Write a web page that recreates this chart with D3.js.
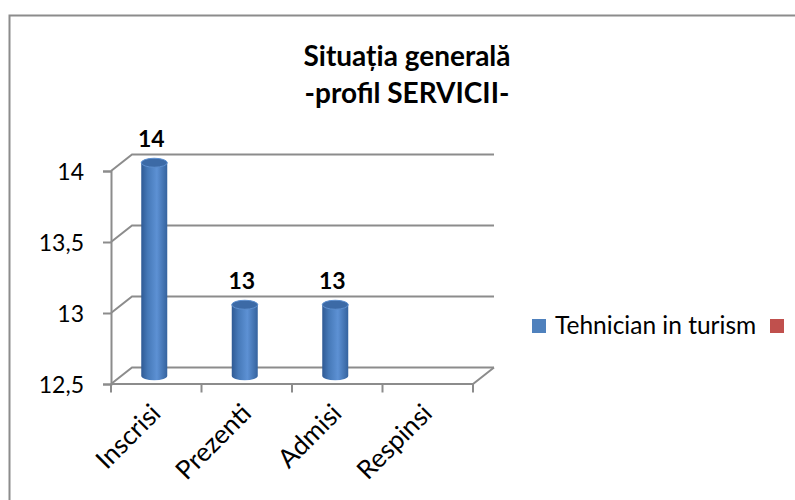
<!DOCTYPE html>
<html>
<head>
<meta charset="utf-8">
<script src="https://cdn.jsdelivr.net/npm/d3@7"></script>
<style>
  body { margin: 0; background: #fff; }
  svg { display: block; font-family: Lato, "Open Sans", sans-serif; }
</style>
</head>
<body>
<svg id="chart"></svg>
<script>
;(() => {

    // chart data
    const categories = ['Inscrisi', 'Prezenti', 'Admisi', 'Respinsi'];
    const seriesNames = ['Tehnician in turism', ''];
    const tehnicianValues = [14, 13, 13, null];
    const secondValues = [null, null, null, null];
    const yTicks = [12.5, 13, 13.5, 14];
    const titleLines = ['Situația generală', '-profil SERVICII-'];

    const width = 795;
    const height = 500;
    // 3d depth offset of the back wall
    const depthX = 21;
    const depthY = -16.5;
    const gridColor = '#8c8c8c';
    const seriesColors = ['#4f81bd', '#c0504d'];

    const svg = d3.select('#chart')
        .attr('width', width)
        .attr('height', height);

    const x = d3.scaleBand().domain(categories).range([111, 473]);
    const y = d3.scaleLinear().domain([12.5, 14]).range([384, 171]);
    const roLocale = d3.formatLocale({decimal: ',', thousands: '.', grouping: [3], currency: ['', ' lei']});
    const fmt = roLocale.format('~g');

    // outer frame
    svg.append('rect')
        .attr('x', 9.5).attr('y', 15.5)
        .attr('width', 820).attr('height', 520)
        .attr('fill', 'none')
        .attr('stroke', gridColor)
        .attr('stroke-width', 2);

    // title
    svg.append('text')
        .attr('text-anchor', 'middle')
        .attr('font-weight', 'bold')
        .attr('font-size', 28)
        .attr('fill', '#000')
        .selectAll('tspan')
        .data(titleLines)
        .enter()
        .append('tspan')
        .attr('x', 407)
        .attr('y', (d, i) => 66 + i * 37)
        .text(d => d);

    const [x0, x1] = x.range();

    // back wall gridlines + diagonals to the front axis
    const grid = svg.append('g').attr('class', 'grid')
        .attr('stroke', gridColor)
        .attr('stroke-width', 2)
        .attr('fill', 'none');

    grid.selectAll('path.back')
        .data(yTicks)
        .enter()
        .append('path')
        .attr('class', 'back')
        .attr('d', d => `M${x0},${y(d)}L${x0 + depthX},${y(d) + depthY}L${x1 + depthX},${y(d) + depthY}`);

    // floor front edge and right side
    const yMin = y.domain()[0];
    grid.append('path')
        .attr('d', `M${x0},${y(yMin)}L${x1},${y(yMin)}L${x1 + depthX},${y(yMin) + depthY}`);

    // category ticks under the floor
    grid.selectAll('line.cat')
        .data(d3.range(categories.length + 1))
        .enter()
        .append('line')
        .attr('class', 'cat')
        .attr('x1', i => x0 + i * x.bandwidth())
        .attr('x2', i => x0 + i * x.bandwidth())
        .attr('y1', y(yMin))
        .attr('y2', y(yMin) + 8.5);

    // y axis
    const yAxis = svg.append('g')
        .attr('transform', `translate(${x0},0)`)
        .call(d3.axisLeft(y).tickValues(yTicks).tickSize(8).tickPadding(19).tickFormat(fmt));

    yAxis.select('.domain')
        .attr('stroke', gridColor)
        .attr('stroke-width', 2);
    yAxis.selectAll('.tick line')
        .attr('stroke', gridColor)
        .attr('stroke-width', 2);
    yAxis.selectAll('.tick text')
        .attr('font-size', 23)
        .attr('font-family', 'Lato, sans-serif')
        .attr('fill', '#000')
        .attr('dy', '0.36em');

    // category labels, rotated
    svg.append('g').selectAll('text')
        .data(categories)
        .enter()
        .append('text')
        .attr('transform', d => `translate(${x(d) + x.bandwidth() / 2 + 6},${415}) rotate(-45)`)
        .attr('text-anchor', 'end')
        .attr('font-size', 26)
        .attr('fill', '#000')
        .text(d => d);

    // cylinder gradient
    const defs = svg.append('defs');
    const grad = defs.append('linearGradient')
        .attr('id', 'cyl')
        .attr('x1', 0).attr('x2', 1).attr('y1', 0).attr('y2', 0);
    grad.append('stop').attr('offset', '0%').attr('stop-color', '#2f5a94');
    grad.append('stop').attr('offset', '25%').attr('stop-color', '#4679b8');
    grad.append('stop').attr('offset', '60%').attr('stop-color', '#5d91d4');
    grad.append('stop').attr('offset', '100%').attr('stop-color', '#35639e');

    const barW = 26;
    const ry = 4.5;
    const barData = categories
        .map((c, i) => ({c, v: tehnicianValues[i]}))
        .filter(d => d.v != null);

    const bars = svg.append('g').attr('class', 'bars')
        .selectAll('g')
        .data(barData)
        .enter()
        .append('g');

    const cx = d => x(d.c) + x.bandwidth() / 2 - 2;
    const baseY = y(yMin) + depthY / 2;
    const topY = d => y(d.v) + depthY / 2;

    bars.append('path')
        .attr('fill', 'url(#cyl)')
        .attr('d', d => {
            const l = cx(d) - barW / 2;
            const r = cx(d) + barW / 2;
            return `M${l},${topY(d)}L${l},${baseY}A${barW / 2},${ry} 0 0 0 ${r},${baseY}L${r},${topY(d)}Z`;
        });

    bars.append('ellipse')
        .attr('cx', cx)
        .attr('cy', topY)
        .attr('rx', barW / 2)
        .attr('ry', ry)
        .attr('fill', '#3c6aa6')
        .attr('stroke', '#5d8fcf')
        .attr('stroke-width', 1);

    // data labels
    bars.append('text')
        .attr('x', d => cx(d) - 3)
        .attr('y', d => topY(d) - 16)
        .attr('text-anchor', 'middle')
        .attr('font-weight', 'bold')
        .attr('font-size', 23)
        .attr('fill', '#000')
        .text(d => d.v);

    // legend
    const legend = svg.append('g').attr('class', 'legend');
    legend.append('rect')
        .attr('x', 532).attr('y', 319)
        .attr('width', 14).attr('height', 14)
        .attr('fill', seriesColors[0]);
    legend.append('text')
        .attr('x', 555).attr('y', 334)
        .attr('font-size', 24.5)
        .attr('fill', '#000')
        .text(seriesNames[0]);
    legend.append('rect')
        .attr('x', 770).attr('y', 319)
        .attr('width', 14).attr('height', 14)
        .attr('fill', seriesColors[1]);

})();
</script>
</body>
</html>
